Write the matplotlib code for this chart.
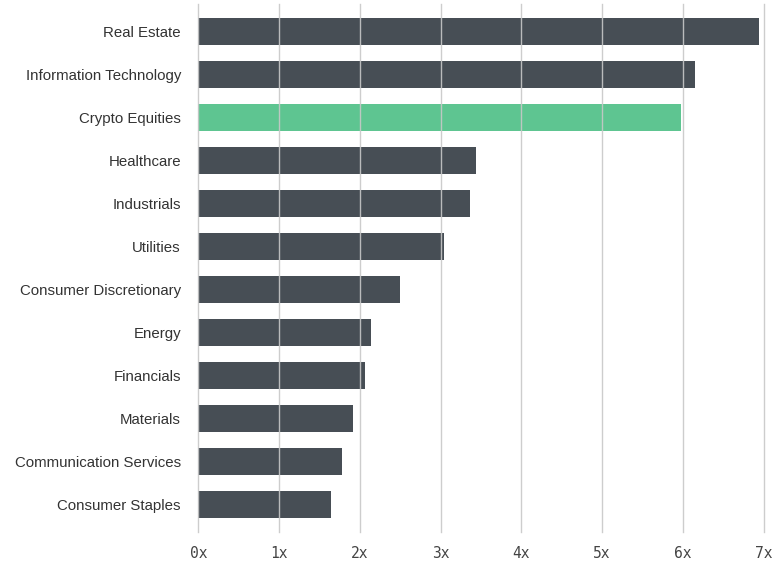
import matplotlib
matplotlib.use("Agg")
import matplotlib.pyplot as plt

categories = ["Real Estate", "Information Technology", "Crypto Equities", "Healthcare",
              "Industrials", "Utilities", "Consumer Discretionary", "Energy",
              "Financials", "Materials", "Communication Services", "Consumer Staples"]
values = [6.94, 6.15, 5.98, 3.44, 3.37, 3.04, 2.50, 2.14, 2.07, 1.91, 1.78, 1.645]
highlight = "Crypto Equities"
xticks = [0, 1, 2, 3, 4, 5, 6, 7]
xticklabels = ["0x", "1x", "2x", "3x", "4x", "5x", "6x", "7x"]

plt.rcParams['font.family'] = ['Liberation Sans', 'DejaVu Sans']

W, H = 778, 564
fig = plt.figure(figsize=(W / 100, H / 100), dpi=100)
left, right, top, bottom = 198.3, 763.7, 4, 532
ax = fig.add_axes([left / W, 1 - bottom / H, (right - left) / W, (bottom - top) / H])

colors = ["#5ec591" if c == highlight else "#474e55" for c in categories]
ypos = list(range(len(categories)))
ax.barh(ypos, values, height=0.63, color=colors, zorder=2)

ax.set_xlim(0, 7)
ax.set_ylim(len(categories) - 0.35, -0.64)
ax.set_yticks(ypos)
ax.set_yticklabels(categories, fontsize=10.8, color="#333333")
ax.set_xticks(xticks)
ax.set_xticklabels(xticklabels, fontsize=10.5, color="#444444", family="DejaVu Sans Mono")

for x in xticks:
    ax.axvline(x, color="#c8c8c8", linewidth=1.0, zorder=3, clip_on=False, alpha=0.9)

for s in ax.spines.values():
    s.set_visible(False)
ax.tick_params(axis='both', length=0)
ax.tick_params(axis='y', pad=12.5)
ax.tick_params(axis='x', pad=10)

fig.savefig("out.png", dpi=100)
